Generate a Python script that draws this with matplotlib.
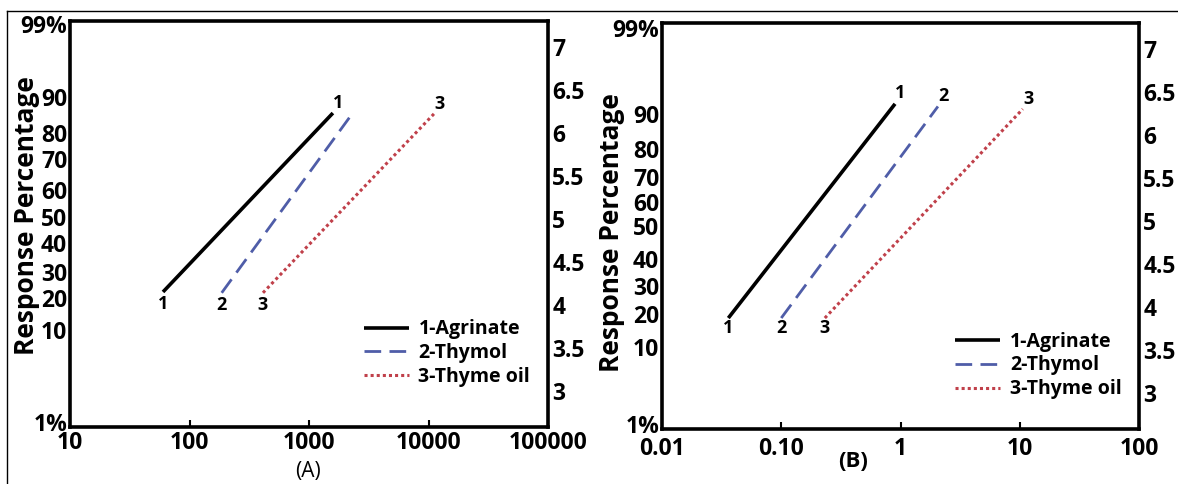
import numpy as np
import matplotlib.pyplot as plt
from matplotlib.lines import Line2D

plt.rcParams['font.family'] = ['Open Sans', 'DejaVu Sans']

names = ['1-Agrinate', '2-Thymol', '3-Thyme oil']

# panel A (dose on log axis, response in probit units)
doseA_start = [60, 186, 412]
doseA_end = [1585, 2350, 11100]
probA_start = [4.15, 4.14, 4.14]
probA_end = [6.23, 6.24, 6.22]
endlabA = ['1', '', '3']

# panel B
doseB_start = [0.036, 0.10, 0.232]
doseB_end = [0.90, 2.06, 10.6]
probB_start = [3.87, 3.87, 3.87]
probB_end = [6.36, 6.33, 6.30]
endlabB = ['1', '2', '3']

pct_labels = ['1%', '10', '20', '30', '40', '50', '60', '70', '80', '90', '99%']
pctA_pos = [2.64, 3.71, 4.08, 4.38, 4.72, 5.02, 5.34, 5.69, 6.0, 6.42, 7.26]
pctB_pos = [2.64, 3.53, 3.92, 4.24, 4.56, 4.94, 5.22, 5.51, 5.84, 6.24, 7.24]
probit_ticks = [3, 3.5, 4, 4.5, 5, 5.5, 6, 6.5, 7]

xticksA = [10, 100, 1000, 10000, 100000]
xlabA = ['10', '100', '1000', '10000', '100000']
xticksB = [0.01, 0.1, 1, 10, 100]
xlabB = ['0.01', '0.10', '1', '10', '100']

colors = ['black', '#4f5da8', '#c0404a']
styles = ['-', (0, (6, 3)), (0, (1, 1))]
widths = [2.6, 2.0, 2.2]

fig = plt.figure(figsize=(11.78, 4.84), dpi=100)
# outer frame (image border)
fig.add_artist(Line2D([7/1178, 7/1178], [0, 1 - 11/484], color='black', lw=1))
fig.add_artist(Line2D([7/1178, 1], [1 - 11/484, 1 - 11/484], color='black', lw=1))

axA = fig.add_axes([70/1178, 1 - 427/484, 478/1178, 406/484])
axB = fig.add_axes([662/1178, 1 - 429/484, 477/1178, 406/484])

panels = [
    (axA, doseA_start, doseA_end, probA_start, probA_end, endlabA, pctA_pos, xticksA, xlabA, (10, 100000)),
    (axB, doseB_start, doseB_end, probB_start, probB_end, endlabB, pctB_pos, xticksB, xlabB, (0.01, 100)),
]

for k, (ax, ds, de, ps, pe, el, ppos, xt, xl, xlim) in enumerate(panels):
    for i in range(3):
        ax.plot([ds[i], de[i]], [ps[i], pe[i]], color=colors[i], ls=styles[i],
                lw=widths[i], label=names[i], solid_capstyle='butt')
        ax.annotate(str(i + 1), (ds[i], ps[i]), xytext=(0, -2 if k == 0 else -1),
                    textcoords='offset points', ha='center', va='top',
                    fontsize=13, fontweight='bold')
        if el[i]:
            ax.annotate(el[i], (de[i], pe[i]), xytext=(4, 1), textcoords='offset points',
                        ha='center', va='bottom', fontsize=13, fontweight='bold')
    ax.set_xscale('log')
    ax.set_xlim(*xlim)
    ax.set_ylim(2.58, 7.30)
    ax.set_xticks(xt)
    ax.set_xticklabels(xl)
    ax.minorticks_off()
    ax.tick_params(axis='x', direction='in', length=5, width=1.5, labelsize=16.5,
                   pad=3 if k == 0 else 6)
    ax.set_yticks(ppos)
    ax.set_yticklabels(pct_labels)
    ax.tick_params(axis='y', length=0, labelsize=16.5, pad=2)
    for lab in ax.get_xticklabels() + ax.get_yticklabels():
        lab.set_fontweight('bold')
    for s in ax.spines.values():
        s.set_linewidth(2.6)
    ax.set_ylabel('Response Percentage', fontsize=19, fontweight='bold')
    ax.yaxis.set_label_coords(-0.063 if k == 0 else -0.078, 0.52 if k == 0 else 0.485)

    ax2 = ax.twinx()
    ax2.set_ylim(2.58, 7.30)
    ax2.set_yticks(probit_ticks)
    ax2.set_yticklabels([f'{v:g}' for v in probit_ticks])
    ax2.tick_params(axis='y', length=0, labelsize=16.5, pad=3)
    for lab in ax2.get_yticklabels():
        lab.set_fontweight('bold')
    for s in ax2.spines.values():
        s.set_visible(False)

    leg = ax.legend(loc='upper left', bbox_to_anchor=(0.615, 0.265 if k == 0 else 0.24),
                    frameon=False, fontsize=14, handlelength=2.3, labelspacing=0.2,
                    borderaxespad=0, borderpad=0, handletextpad=0.5)
    for t in leg.get_texts():
        t.set_fontweight('bold')

axA.text(0.497, -0.11, '(A)', transform=axA.transAxes, ha='center', va='center', fontsize=15)
axB.text(0.40, -0.08, '(B)', transform=axB.transAxes, ha='center', va='center',
         fontsize=16, fontweight='bold')

fig.savefig('out.png', dpi=100)
